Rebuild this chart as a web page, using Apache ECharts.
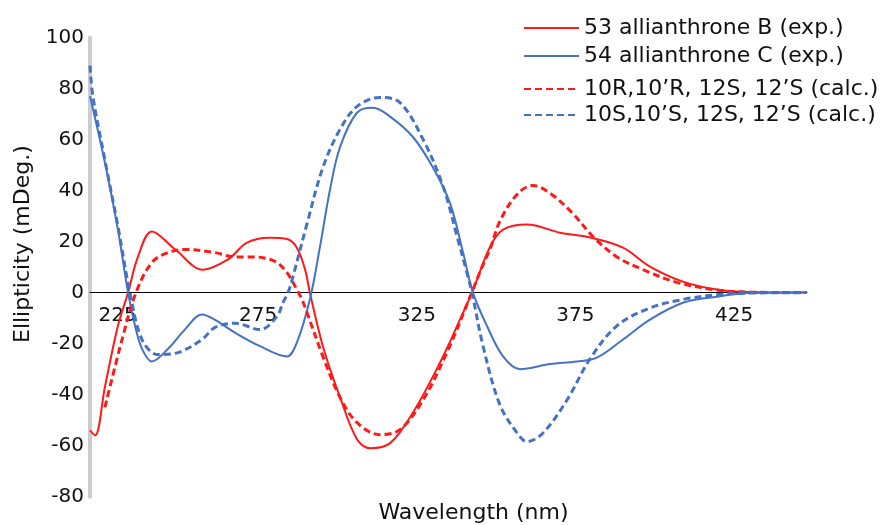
<!DOCTYPE html>
<html>
<head>
<meta charset="utf-8">
<script src="https://cdn.jsdelivr.net/npm/echarts@6/dist/echarts.min.js"></script>
<style>
html,body{margin:0;padding:0;background:#fff;}
#chart{width:893px;height:525px;}
</style>
</head>
<body>
<div id="chart"></div>
<script>
// ---- data ----
const seriesNames = ['53 allianthrone B (exp.)', '54 allianthrone C (exp.)', '10R,10\u2019R, 12S, 12\u2019S (calc.)', '10S,10\u2019S, 12S, 12\u2019S (calc.)'];
const xTickLabels = [225, 275, 325, 375, 425];
const yTickLabels = [-80, -60, -40, -20, 0, 20, 40, 60, 80, 100];

const redExpWl  = [222.0,223.6,226.7,230.8,234.0,237.1,241.5,248.8,257.6,265.5,271.5,278.7,284.1,287.2,289.8,291.3,295.4,300.8,306.2,310.3,316.6,323.8,332.3,338.6,342.4,348.1,352.2,359.7,370.1,379.6,390.0,398.5,408.9,419.6,430.0,448.0];
const redExpVal = [-54,-56,-37,-13,0,14,24,17,9,13,19.6,21.5,21,17.6,9,0,-21,-41,-57.6,-61,-59,-47,-27.5,-10.6,0,18,24.7,26.7,23.5,21.6,17.6,10.2,4.3,1.2,0.2,0];

const blueExpWl  = [222.0,226.7,230.8,234.0,236.2,238.4,241.5,246.6,251.9,257.3,261.3,267.7,275.6,284.1,287.2,291.3,294.5,297.6,300.8,306.2,311.2,316.6,323.8,330.1,335.5,339.6,342.7,347.1,352.2,357.5,367.0,375.5,381.8,390.0,398.5,408.9,419.6,430.0,448.0];
const blueExpVal = [77,51,24.7,0,-13,-22,-27,-22,-14.5,-8.6,-10.6,-15.7,-21,-25,-19.6,-2.7,18,40,57,70.6,72.5,69,61,49,35,15.7,0,-13,-25,-30,-28,-27,-25.5,-18.4,-10.6,-4,-1.6,-0.2,0];

const redCalcWl  = [226.7,232.1,236.5,241.5,246.6,251.9,261.3,267.7,272.4,276.5,280.9,284.1,287.2,288.8,290.4,295.4,300.8,306.2,313.4,319.7,327.0,334.5,341.8,345.9,348.1,351.2,356.6,361.6,367.0,374.2,380.5,388.1,396.3,407.0,419.6,430.0,448.0];
const redCalcVal = [-45,-18.4,0,11.8,15.7,16.9,15.7,14,14,13.7,11.8,7.8,1.2,-2.7,-7.8,-25,-41,-51,-55.7,-53.7,-42,-23.5,-1.6,11,17,28,38.5,42,39,31,22,14,9,4,1,0.2,0];

const blueCalcWl  = [222.0,222.9,226.7,230.8,234.6,238.4,243.4,249.7,257.3,261.3,267.7,275.6,280.9,282.8,284.4,285.7,290.4,295.4,300.8,306.2,313.4,319.7,327.0,333.3,337.7,340.8,342.4,345.9,351.2,356.6,359.7,364.8,372.4,379.6,388.1,398.5,408.9,419.6,430.0,448.0];
const blueCalcVal = [89,77,52,26,0,-18.4,-24.3,-23.5,-18.4,-13.7,-12,-14.5,-9.4,-4,0,5,27,49,64,73,76.5,74.5,60,41.6,22,7.8,0,-21,-44,-55,-58.4,-55,-42,-26,-13,-6,-2.7,-0.8,-0.2,0];

function pairs(xs, ys) { return xs.map((x, i) => [x, ys[i]]); }

const RED = '#ff1a1a';
const BLUE = '#4472c4';
const FONT = 'DejaVu Sans';

const GRID_TOP = 37.5, GRID_BOTTOM = 28.3, H = 525;
const Y_MIN = -80, Y_MAX = 100;
// move the x axis (line + labels) up to the y = 0 level
const zeroOffset = -((H - GRID_TOP - GRID_BOTTOM) * (0 - Y_MIN) / (Y_MAX - Y_MIN));

const chart = echarts.init(document.getElementById('chart'), null, { renderer: 'canvas' });

function lineSeries(name, data, color, dashed) {
  return {
    name: name,
    type: 'line',
    data: data,
    showSymbol: false,
    symbol: 'none',
    smooth: 0.35,
    animation: false,
    color: color,
    lineStyle: dashed ? { color: color, width: 3, type: [7, 4] } : { color: color, width: 2 }
  };
}

const legendBase = {
  orient: 'vertical',
  left: 518,
  itemWidth: 55,
  itemHeight: 14,
  itemStyle: { opacity: 0 },
  textStyle: { fontFamily: FONT, fontSize: 22, color: '#111' }
};

chart.setOption({
  animation: false,
  backgroundColor: '#fff',
  grid: { left: 90, right: 86, top: GRID_TOP, bottom: GRID_BOTTOM, containLabel: false, outerBoundsMode: 'none' },
  legend: [
    Object.assign({}, legendBase, { top: 12, itemGap: 6, data: [seriesNames[0], seriesNames[1]] }),
    Object.assign({}, legendBase, { top: 73, itemGap: 4, data: [seriesNames[2], seriesNames[3]] })
  ],
  xAxis: {
    type: 'value',
    min: 222,
    max: 448,
    position: 'bottom',
    offset: zeroOffset,
    name: 'Wavelength (nm)',
    nameLocation: 'middle',
    nameGap: 210,
    nameTextStyle: { fontFamily: FONT, fontSize: 22, color: '#111', padding: [0, 0, 0, 50] },
    axisLine: { onZero: false, lineStyle: { color: '#000', width: 1 } },
    axisTick: { show: false },
    splitLine: { show: false },
    axisLabel: {
      customValues: xTickLabels,
      margin: 13,
      fontFamily: FONT,
      fontSize: 20,
      color: '#111',
      formatter: function (v) { return v === 225 ? '{a|' + v + '}' : String(v); },
      rich: { a: { fontFamily: FONT, fontSize: 20, color: '#111', padding: [0, 0, 0, 36] } }
    }
  },
  yAxis: {
    type: 'value',
    min: Y_MIN,
    max: Y_MAX,
    interval: 20,
    name: 'Ellipticity (mDeg.)',
    nameLocation: 'middle',
    nameGap: 56,
    nameRotate: 90,
    nameTextStyle: { fontFamily: FONT, fontSize: 22, color: '#111', padding: [0, 0, 0, 46] },
    axisLine: { show: true, lineStyle: { color: '#cccccc', width: 4 } },
    axisTick: { show: false },
    splitLine: { show: false },
    axisLabel: { margin: 6, fontFamily: FONT, fontSize: 20, color: '#111' }
  },
  series: [
    lineSeries(seriesNames[0], pairs(redExpWl, redExpVal), RED, false),
    lineSeries(seriesNames[1], pairs(blueExpWl, blueExpVal), BLUE, false),
    lineSeries(seriesNames[2], pairs(redCalcWl, redCalcVal), RED, true),
    lineSeries(seriesNames[3], pairs(blueCalcWl, blueCalcVal), BLUE, true)
  ]
});
</script>
</body>
</html>
